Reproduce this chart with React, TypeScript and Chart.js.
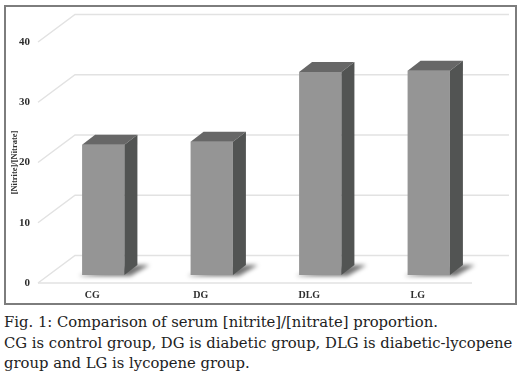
import React, { useEffect, useRef } from "react";
import { Chart, registerables } from "chart.js";

Chart.register(...registerables);

const categories = ["CG", "DG", "DLG", "LG"];
const ratioValues = [21.6, 22.1, 33.7, 33.9];
const yTickValues = [0, 10, 20, 30, 40];
const yAxisTitle = "[Nitrite]/[Nitrate]";
const captionLines = [
  "Fig. 1: Comparison of serum [nitrite]/[nitrate] proportion.",
  "CG is control group, DG is diabetic group, DLG is diabetic-lycopene",
  "group and LG is lycopene group.",
];

const WALL_DX = 37;
const WALL_DY = -27.5;
const BAR_DX = 11;
const BAR_DY = -8;
const DEPTH_X = 13;
const DEPTH_Y = -10;

const threeDPlugin = {
  id: "threeD",
  beforeDatasetsDraw(chart: any) {
    const { ctx, chartArea } = chart;
    const y = chart.scales.y;
    ctx.save();
    ctx.strokeStyle = "#e2e2e2";
    ctx.lineWidth = 1.5;
    y.ticks.forEach((t: any) => {
      const py = y.getPixelForValue(t.value);
      ctx.beginPath();
      ctx.moveTo(chartArea.left, py);
      ctx.lineTo(chartArea.left + WALL_DX, py + WALL_DY);
      ctx.lineTo(chartArea.right + WALL_DX, py + WALL_DY);
      ctx.stroke();
    });
    const y0 = y.getPixelForValue(0);
    ctx.beginPath();
    ctx.moveTo(chartArea.left, y0);
    ctx.lineTo(chartArea.right, y0);
    ctx.stroke();

    // soft shadows at bar bases
    const meta = chart.getDatasetMeta(0);
    ctx.filter = "blur(2px)";
    ctx.fillStyle = "rgba(0,0,0,0.55)";
    meta.data.forEach((bar: any) => {
      const l = bar.x - bar.width / 2 + BAR_DX;
      const r = bar.x + bar.width / 2 + BAR_DX;
      const b = bar.base + BAR_DY;
      ctx.beginPath();
      ctx.moveTo(l - 3, b + 1);
      ctx.lineTo(r + 6, b + 1);
      ctx.lineTo(r + DEPTH_X + 12, b + DEPTH_Y);
      ctx.lineTo(r + DEPTH_X, b + DEPTH_Y);
      ctx.lineTo(l, b);
      ctx.closePath();
      ctx.fill();
    });
    ctx.restore();

    ctx.save();
    ctx.translate(BAR_DX, BAR_DY);
  },
  afterDatasetsDraw(chart: any) {
    const { ctx } = chart;
    const meta = chart.getDatasetMeta(0);
    meta.data.forEach((bar: any) => {
      const l = bar.x - bar.width / 2;
      const r = bar.x + bar.width / 2;
      const top = bar.y;
      const base = bar.base;
      ctx.fillStyle = "#676767";
      ctx.beginPath();
      ctx.moveTo(l, top);
      ctx.lineTo(l + DEPTH_X, top + DEPTH_Y);
      ctx.lineTo(r + DEPTH_X, top + DEPTH_Y);
      ctx.lineTo(r, top);
      ctx.closePath();
      ctx.fill();
      ctx.fillStyle = "#525453";
      ctx.beginPath();
      ctx.moveTo(r, top);
      ctx.lineTo(r + DEPTH_X, top + DEPTH_Y);
      ctx.lineTo(r + DEPTH_X, base + DEPTH_Y);
      ctx.lineTo(r, base);
      ctx.closePath();
      ctx.fill();
    });
    ctx.restore();
  },
};

export default function App() {
  const canvasRef = useRef<HTMLCanvasElement>(null);

  useEffect(() => {
    const canvas = canvasRef.current;
    if (!canvas) return;
    const chart = new Chart(canvas, {
      type: "bar",
      data: {
        labels: categories,
        datasets: [
          {
            data: ratioValues,
            backgroundColor: "#959595",
            borderWidth: 0,
            barPercentage: 0.39,
            categoryPercentage: 1,
            clip: false as any,
          },
        ],
      },
      options: {
        responsive: false,
        animation: false,
        layout: { padding: { left: 0, right: 52, top: 42, bottom: 0 } },
        plugins: {
          legend: { display: false },
          tooltip: { enabled: false },
        },
        scales: {
          x: {
            grid: { display: false, drawTicks: false },
            border: { display: false },
            ticks: {
              padding: 6,
              color: "#2e2e2e",
              font: { family: "'Liberation Serif', serif", size: 10, weight: "bold" },
            },
            afterFit: (s: any) => {
              s.height = 27;
            },
          },
          y: {
            min: 0,
            max: 40,
            grid: { display: false, drawTicks: false },
            border: { display: false },
            afterBuildTicks: (s: any) => {
              s.ticks = yTickValues.map((v) => ({ value: v }));
            },
            ticks: {
              padding: 8,
              color: "#2e2e2e",
              font: { family: "'Liberation Serif', serif", size: 11, weight: "bold" },
            },
            title: {
              display: true,
              text: yAxisTitle,
              color: "#2e2e2e",
              padding: { top: 10, bottom: 0 },
              font: { family: "'Liberation Serif', serif", size: 8.5, weight: "bold" },
            },
            afterFit: (s: any) => {
              s.width = 38;
            },
          },
        },
      },
      plugins: [threeDPlugin],
    });
    return () => chart.destroy();
  }, []);

  return (
    <div style={{ position: "absolute", left: 0, top: 0, width: 524, height: 378, background: "#ffffff" }}>
      <div
        style={{
          position: "absolute",
          left: 4,
          top: 5,
          width: 509,
          height: 296,
          border: "2px solid #7d7d7d",
        }}
      />
      <canvas
        ref={canvasRef}
        width={524}
        height={310}
        style={{ position: "absolute", left: 0, top: 0, display: "block" }}
      />
      <div
        style={{
          position: "absolute",
          left: 4,
          top: 312,
          fontFamily: "'DejaVu Serif', serif",
          fontSize: 14.8,
          lineHeight: "20.5px",
          color: "#222222",
          whiteSpace: "nowrap",
        }}
      >
        {captionLines.map((t, i) => (
          <div key={i}>{t}</div>
        ))}
      </div>
    </div>
  );
}
